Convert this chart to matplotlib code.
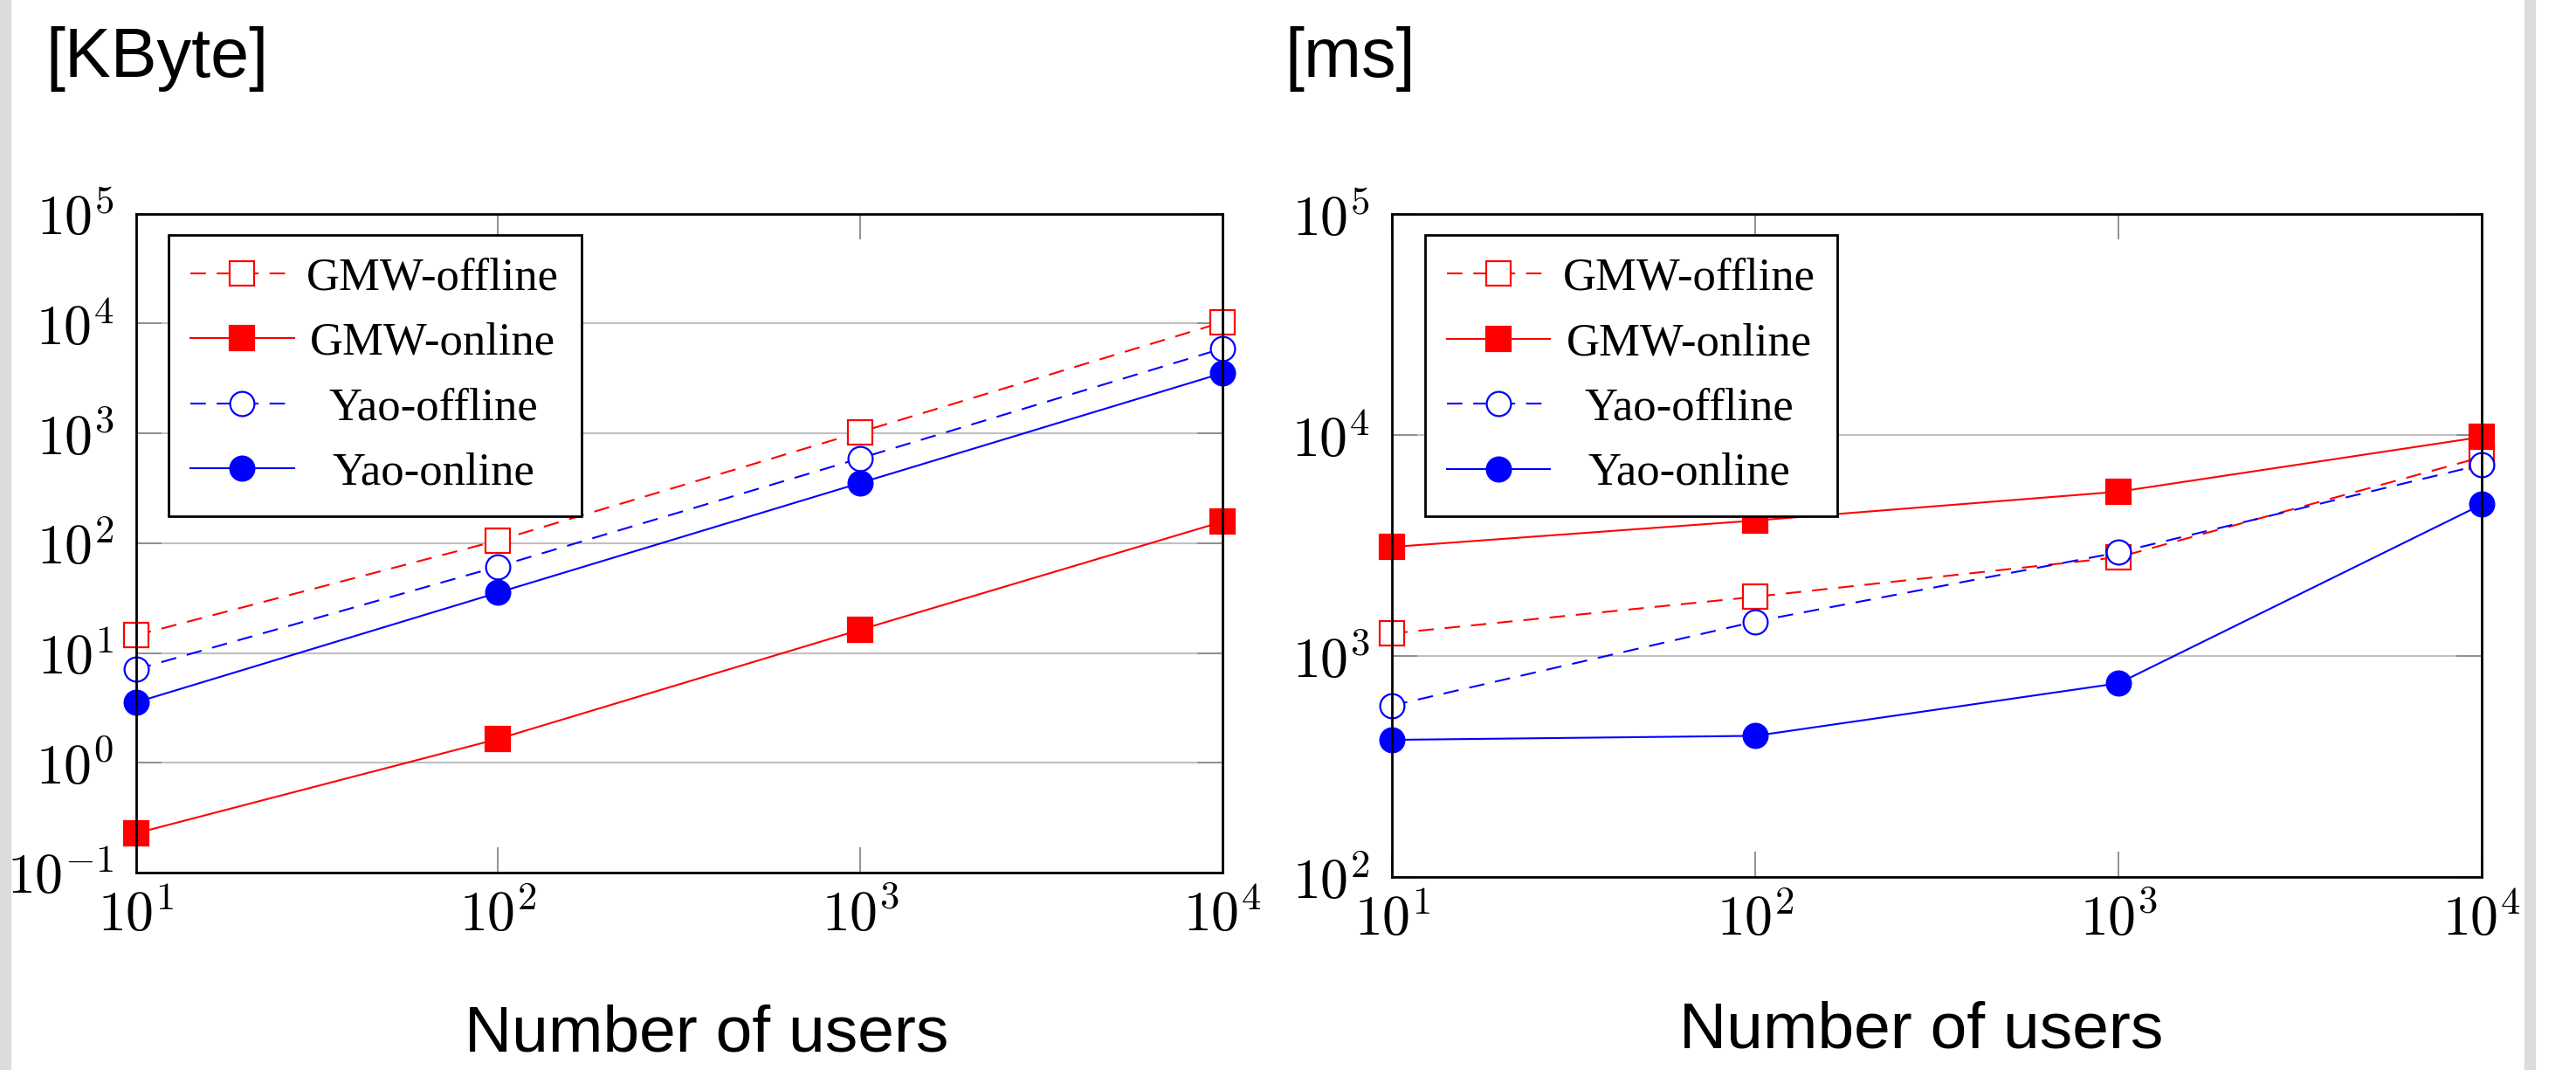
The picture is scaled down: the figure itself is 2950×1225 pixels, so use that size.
import matplotlib
matplotlib.use('Agg')
import math
import matplotlib.pyplot as plt
from matplotlib.patches import Rectangle
from matplotlib.ticker import LogLocator, NullLocator, FuncFormatter

# number of users
users = [10, 100, 1000, 10000]

series = ['GMW-offline', 'GMW-online', 'Yao-offline', 'Yao-online']

# communication [KByte]
kb_gmw_off = [14.5, 106, 1030, 10300]
kb_gmw_on = [0.228, 1.65, 16.3, 157]
kb_yao_off = [7.1, 61.4, 594, 5940]
kb_yao_on = [3.55, 35.5, 354, 3540]

# runtime [ms]
ms_gmw_off = [1267, 1857, 2805, 7960]
ms_gmw_on = [3120, 4110, 5550, 9820]
ms_yao_off = [598, 1435, 2950, 7360]
ms_yao_on = [418, 436, 754, 4860]

units = ['[KByte]', '[ms]']
xlabel = 'Number of users'

plt.rcParams['mathtext.fontset'] = 'cm'

W, H = 2950, 1225
fig = plt.figure(figsize=(W / 100, H / 100), dpi=100)
fig.patch.set_facecolor('white')

# light gray side strips
fig.patches.append(Rectangle((0, 0), 12 / W, 1, transform=fig.transFigure,
                             color='#dcdcdc', zorder=0))
fig.patches.append(Rectangle((2891 / W, 0), 12 / W, 1, transform=fig.transFigure,
                             color='#dcdcdc', zorder=0))

ax1 = fig.add_axes([155.7 / W, 1 - 999 / H, 1244.3 / W, 754.2 / H])
ax2 = fig.add_axes([1594.3 / W, 1 - 1004.2 / H, 1248 / W, 759 / H])

styles = [
    dict(color='red', ls=(0, (8.5, 6)), marker='s', mfc='white'),
    dict(color='red', ls='-', marker='s', mfc='red'),
    dict(color='blue', ls=(0, (8.5, 6)), marker='o', mfc='white'),
    dict(color='blue', ls='-', marker='o', mfc='blue'),
]

pow_fmt = FuncFormatter(lambda v, p: r'$10^{%d}$' % round(math.log10(v)))


def draw(ax, data, ylim):
    for name, vals, st in zip(series, data, styles):
        ax.plot(users, vals, color=st['color'], ls=st['ls'], lw=1.5,
                marker=st['marker'], ms=20, mfc=st['mfc'], mec=st['color'],
                mew=1.6, label=name, clip_on=False, zorder=3)
    ax.set_xscale('log')
    ax.set_yscale('log')
    ax.set_xlim(10, 10000)
    ax.set_ylim(*ylim)
    ax.xaxis.set_major_locator(LogLocator(base=10, numticks=10))
    ax.yaxis.set_major_locator(LogLocator(base=10, numticks=10))
    ax.xaxis.set_minor_locator(NullLocator())
    ax.yaxis.set_minor_locator(NullLocator())
    ax.xaxis.set_major_formatter(pow_fmt)
    ax.yaxis.set_major_formatter(pow_fmt)
    ax.yaxis.grid(True, color='#c0c0c0', lw=1.5, zorder=0)
    ax.set_axisbelow(True)
    ax.tick_params(axis='both', which='major', direction='in', top=True, right=True,
                   length=21, width=1.4, color='#909090', labelsize=46)
    ax.tick_params(axis='x', pad=13)
    ax.tick_params(axis='y', pad=18)
    for s in ax.spines.values():
        s.set_linewidth(2)
        s.set_color('black')
        s.set_zorder(4)
    leg = ax.legend(loc='upper left', bbox_to_anchor=(0.03, 0.968), borderaxespad=0,
                    prop={'family': 'Liberation Serif', 'size': 38},
                    handlelength=2.24, handletextpad=0.28, borderpad=0.48,
                    labelspacing=0.5, fancybox=False, framealpha=1,
                    edgecolor='black')
    leg.get_frame().set_linewidth(2)
    leg.set_zorder(5)
    return leg


leg1 = draw(ax1, [kb_gmw_off, kb_gmw_on, kb_yao_off, kb_yao_on], (0.1, 1e5))
leg2 = draw(ax2, [ms_gmw_off, ms_gmw_on, ms_yao_off, ms_yao_on], (100, 1e5))

fig.text(52 / W, 1 - 30 / H, units[0], fontsize=57, family='Liberation Sans', va='top')
fig.text(1471 / W, 1 - 30 / H, units[1], fontsize=57, family='Liberation Sans', va='top')
fig.text(809 / W, 1 - 1203 / H, xlabel, fontsize=54, family='Liberation Sans',
         ha='center', va='baseline')
fig.text(2200 / W, 1 - 1199 / H, xlabel, fontsize=54, family='Liberation Sans',
         ha='center', va='baseline')

# centre legend labels like pgfplots does
fig.canvas.draw()
r = fig.canvas.get_renderer()
for leg in (leg1, leg2):
    texts = leg.get_texts()
    widths = [t.get_window_extent(r).width for t in texts]
    wmax = max(widths)
    for t, w in zip(texts, widths):
        t.set_position(((wmax - w) / 2, 0))

fig.savefig('out.png', dpi=100)
